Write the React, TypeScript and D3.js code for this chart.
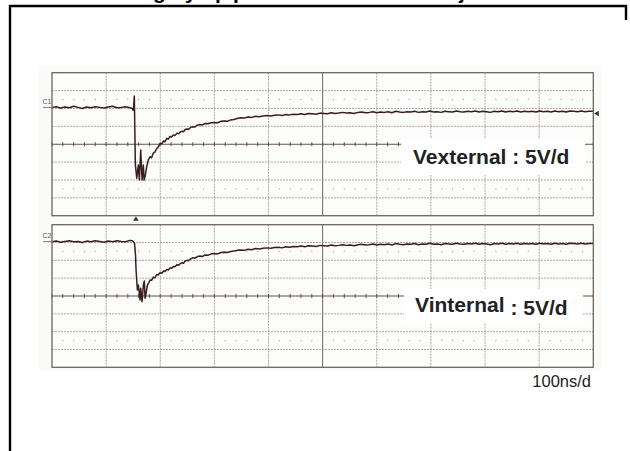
import React from "react";
import * as d3 from "d3";

// ---- data (time in ns, voltage in V on screen scale, centre = 0) ----
const timeDomain: [number, number] = [0, 1000];
const voltDomain: [number, number] = [-20, 20];
const verticalDivs = [100, 200, 300, 400, 500, 600, 700, 800, 900];
const horizontalDivs = [-15, -10, -5, 0, 5, 10, 15];
const dotRows = [-12.5, 12.5];

const channelLabels = ["C1", "C2"];
const channelTitles = [["Vexternal : 5V/d"], ["Vinternal", ": 5V/d"]];
const channelLevels = [10.3, 15.25];
const timebaseLabel = "100ns/d";
const triggerTime = 155;
const triggerLevel = 8.6;
const titleFragments = [
  { ch: "g", x: 153 },
  { ch: "y", x: 185 },
  { ch: "p", x: 215 },
  { ch: "p", x: 233 },
  { ch: "j", x: 459 },
];

const vexternal: [number, number][] = [
  [0, 10.3], [8, 10.5], [16, 10.1], [24, 10.4], [32, 10.2], [40, 10.6], [48, 10.3], [56, 10.0], [64, 10.4], [72, 10.2],
  [80, 10.5], [88, 10.3], [96, 10.1], [104, 10.4], [112, 10.6], [120, 10.2], [128, 10.3], [136, 10.5], [144, 10.2],
  [148, 10.0], [150.3, 9.5], [152.1, 13.5], [154, -5.8], [156.6, -9.5], [159.5, -5.8], [161.4, -10.0], [163.9, -1.6],
  [166.4, -10.0], [168.8, -5.8], [170.1, -10.0], [172.5, -8.6], [175, -6.3], [178, -4.4], [181, -3.5], [184, -3.8],
  [187, -2.5], [190, -2.2], [193.5, -1.15], [196, -0.9], [199.6, 0.2], [203, 0.1], [206, 0.9], [209, 0.7], [212, 1.65],
  [215, 1.4], [218, 2.2], [221, 2.0], [224, 2.6], [227, 2.4], [231, 3.1], [234, 2.9], [237, 3.4], [240, 3.6], [243, 3.5],
  [246, 4.1], [249, 4.25], [252, 4.1], [256, 4.7], [260, 4.9], [264, 4.8], [268, 5.3], [273, 5.5], [278, 5.4], [283, 5.8],
  [288, 5.7], [294, 6.0], [300, 6.1], [306, 6.0], [312, 6.4], [318, 6.5], [324, 6.4], [330, 6.8], [336, 6.9], [342, 7.2],
  [348, 7.4], [355, 7.3], [362, 7.6], [369, 7.5], [376, 7.8], [383, 7.7], [390, 7.9], [397, 8.0], [404, 7.9], [411, 8.1],
  [418, 8.2], [425, 8.0], [432, 8.3], [439, 8.2], [446, 8.4], [453, 8.3], [460, 8.5], [467, 8.3], [474, 8.6], [481, 8.5],
  [488, 8.4], [495, 8.7], [502, 8.6], [509, 8.5], [516, 8.8], [523, 8.6], [530, 8.7], [537, 8.9], [544, 8.7], [551, 8.8],
  [558, 8.6], [565, 8.9], [572, 9.0], [579, 8.8], [586, 8.9], [593, 9.1], [600, 8.8], [607, 9.0], [614, 8.9], [621, 9.1],
  [628, 8.8], [635, 9.2], [642, 9.0], [649, 8.9], [656, 9.1], [663, 9.0], [670, 9.2], [677, 8.9], [684, 9.1], [691, 9.0],
  [698, 9.3], [705, 9.0], [712, 9.1], [719, 8.9], [726, 9.2], [733, 9.1], [740, 9.0], [747, 9.3], [754, 9.1], [761, 9.0],
  [768, 9.2], [775, 9.1], [782, 9.3], [789, 9.0], [796, 9.2], [803, 9.1], [810, 8.9], [817, 9.2], [824, 9.1], [831, 9.3],
  [838, 9.0], [845, 9.2], [852, 9.1], [859, 9.3], [866, 9.0], [873, 9.2], [880, 9.1], [887, 9.2], [894, 9.0], [901, 9.3],
  [908, 9.1], [915, 9.2], [922, 9.0], [929, 9.3], [936, 9.1], [943, 9.2], [950, 9.0], [957, 9.3], [964, 9.2], [971, 9.1],
  [978, 9.3], [985, 9.1], [992, 9.2], [1000, 9.2],
];

const vinternal: [number, number][] = [
  [0, 15.2], [8, 15.4], [16, 15.1], [24, 15.3], [32, 15.5], [40, 15.2], [48, 15.3], [56, 15.0], [64, 15.4], [72, 15.2],
  [80, 15.5], [88, 15.3], [96, 15.1], [104, 15.4], [112, 15.2], [120, 15.5], [128, 15.3], [136, 15.2], [144, 15.6],
  [148, 15.5], [150, 15.3], [152.5, 14.75], [154.3, 11.5], [155.3, 7.3], [157.7, 1.7], [159.5, 3.1], [162.7, -1.1],
  [163.9, 2.2], [166.4, -1.6], [168.8, 3.1], [170.6, 4.2], [171.9, -0.65], [173.8, 0.76], [176.2, 3.1], [178.5, 3.6],
  [181.1, 4.5], [184, 4.4], [187.2, 5.3], [190, 5.1], [193.5, 6.0], [196, 5.9], [199.6, 6.5], [203, 6.4], [206, 7.0],
  [209, 6.9], [212, 7.4], [215, 7.3], [218, 7.9], [221, 7.8], [224, 8.3], [227, 8.2], [231, 8.8], [234, 8.6], [237, 9.1],
  [240, 9.3], [243, 9.2], [246, 9.8], [249, 10.0], [252, 9.9], [256, 10.4], [260, 10.7], [264, 10.6], [268, 11.0],
  [273, 11.2], [278, 11.1], [283, 11.5], [288, 11.4], [294, 11.8], [300, 11.9], [306, 11.8], [312, 12.2], [318, 12.3],
  [324, 12.2], [330, 12.5], [336, 12.6], [342, 12.8], [348, 12.9], [355, 12.8], [362, 13.1], [369, 13.0], [376, 13.3],
  [383, 13.2], [390, 13.4], [397, 13.5], [404, 13.4], [411, 13.6], [418, 13.7], [425, 13.5], [432, 13.8], [439, 13.7],
  [446, 13.9], [453, 13.8], [460, 14.0], [467, 13.8], [474, 14.1], [481, 14.0], [488, 13.9], [495, 14.2], [502, 14.1],
  [509, 14.0], [516, 14.3], [523, 14.1], [530, 14.2], [537, 14.4], [544, 14.2], [551, 14.3], [558, 14.1], [565, 14.4],
  [572, 14.5], [579, 14.3], [586, 14.4], [593, 14.6], [600, 14.3], [607, 14.5], [614, 14.4], [621, 14.6], [628, 14.3],
  [635, 14.7], [642, 14.5], [649, 14.4], [656, 14.6], [663, 14.5], [670, 14.7], [677, 14.4], [684, 14.6], [691, 14.5],
  [698, 14.8], [705, 14.5], [712, 14.6], [719, 14.4], [726, 14.7], [733, 14.6], [740, 14.5], [747, 14.8], [754, 14.6],
  [761, 14.5], [768, 14.7], [775, 14.6], [782, 14.8], [789, 14.5], [796, 14.7], [803, 14.6], [810, 14.4], [817, 14.7],
  [824, 14.6], [831, 14.8], [838, 14.5], [845, 14.7], [852, 14.6], [859, 14.8], [866, 14.5], [873, 14.7], [880, 14.6],
  [887, 14.7], [894, 14.5], [901, 14.8], [908, 14.6], [915, 14.7], [922, 14.5], [929, 14.8], [936, 14.6], [943, 14.7],
  [950, 14.5], [957, 14.8], [964, 14.7], [971, 14.6], [978, 14.8], [985, 14.6], [992, 14.7], [1000, 14.7],
];

const traces = [vexternal, vinternal];

// ---- layout ----
const W = 630;
const H = 451;
const plotLeft = 52;
const plotRight = 593.3;
const panels = [
  { top: 72.7, bottom: 215.7, box: { x: 401, y: 139, w: 184, h: 36 }, textX: 413, textY: 164.3 },
  { top: 224.7, bottom: 367.3, box: { x: 404, y: 289, w: 179, h: 34 }, textX: 415, textY: 311.7 },
];

const FONT = "'Liberation Sans', Arial, Helvetica, sans-serif";

export default function App() {
  const x = d3.scaleLinear().domain(timeDomain).range([plotLeft, plotRight]);
  const subTicks = d3.range(timeDomain[0], timeDomain[1] + 0.001, 20);

  return (
    <svg
      width={W}
      height={H}
      viewBox={`0 0 ${W} ${H}`}
      style={{ position: "absolute", left: 0, top: 0, background: "#fff" }}
    >
      <rect x={0} y={0} width={W} height={H} fill="#fff" />
      {/* cut-off title descenders */}
      {titleFragments.map((f, i) => (
        <text key={i} x={f.x} y={-1.5} fontFamily={FONT} fontWeight="bold" fontSize={21} fill="#000">
          {f.ch}
        </text>
      ))}
      {/* outer frame */}
      <path d={`M10,451 V6 H626 V20`} fill="none" stroke="#000" strokeWidth={2.4} />
      {/* faint screen margin */}
      <rect x={39} y={66} width={562} height={305} fill="#fafaf9" />

      {panels.map((p, pi) => {
        const y = d3.scaleLinear().domain(voltDomain).range([p.bottom, p.top]);
        const line = d3
          .line<[number, number]>()
          .x((d) => x(d[0]))
          .y((d) => y(d[1]));
        const dots: [number, number][] = [];
        dotRows.forEach((v) =>
          subTicks.forEach((t) => {
            if (t % 100 !== 0) dots.push([t, v]);
          })
        );
        return (
          <g key={pi}>
            <rect x={plotLeft} y={p.top} width={plotRight - plotLeft} height={p.bottom - p.top} fill="#fdfdfc" />
            {verticalDivs.map((t) => (
              <line
                key={"v" + t}
                x1={x(t)}
                x2={x(t)}
                y1={p.top}
                y2={p.bottom}
                stroke={t === 500 ? "#6e6262" : "#9a9090"}
                strokeWidth={t === 500 ? 1 : 0.8}
                strokeDasharray={t === 500 ? undefined : "2,1"}
              />
            ))}
            {horizontalDivs.map((v) => (
              <line
                key={"h" + v}
                x1={plotLeft}
                x2={plotRight}
                y1={y(v)}
                y2={y(v)}
                stroke={v === 0 ? "#5e5050" : "#9a9090"}
                strokeWidth={v === 0 ? 1.1 : 0.8}
                strokeDasharray={v === 0 ? undefined : "2,1"}
              />
            ))}
            {subTicks.map((t) => (
              <line key={"tk" + t} x1={x(t)} x2={x(t)} y1={y(0) - 2} y2={y(0) + 2} stroke="#5e5050" strokeWidth={1} />
            ))}
            {dots.map((d, i) => (
              <rect key={"d" + i} x={x(d[0]) - 0.5} y={y(d[1]) - 0.5} width={1} height={1} fill="#9a9090" />
            ))}
            <path d={line(traces[pi]) || ""} fill="none" stroke="#3a1e1e" strokeWidth={1.5} strokeLinejoin="round" />
            {/* channel marker */}
            <text x={42.5} y={y(channelLevels[pi]) - 3.5} fontFamily={FONT} fontSize={7} fill="#555">
              {channelLabels[pi]}
            </text>
            <line
              x1={43}
              x2={plotLeft}
              y1={y(channelLevels[pi])}
              y2={y(channelLevels[pi])}
              stroke="#555"
              strokeWidth={0.8}
            />
            {/* label box */}
            <rect x={p.box.x} y={p.box.y} width={p.box.w} height={p.box.h} fill="#fff" />
            <text x={p.textX} y={p.textY} fontFamily={FONT} fontWeight="bold" fontSize={21} fill="#222">
              {channelTitles[pi].length === 1 ? (
                channelTitles[pi][0]
              ) : (
                <>
                  <tspan>{channelTitles[pi][0]}</tspan>
                  <tspan dx={6} dy={3}>
                    {channelTitles[pi][1]}
                  </tspan>
                </>
              )}
            </text>
            <rect
              x={plotLeft}
              y={p.top}
              width={plotRight - plotLeft}
              height={p.bottom - p.top}
              fill="none"
              stroke="#6f6464"
              strokeWidth={1.3}
            />
          </g>
        );
      })}

      {/* trigger position marker */}
      {(() => {
        const tx = x(triggerTime);
        return <path d={`M${tx - 2.8},220.8 L${tx + 2.8},220.8 L${tx},216.6 Z`} fill="#333" />;
      })()}
      {/* trigger level marker */}
      {(() => {
        const y1 = d3.scaleLinear().domain(voltDomain).range([panels[0].bottom, panels[0].top]);
        const ty = y1(triggerLevel);
        return <path d={`M${plotRight + 0.8},${ty} L${plotRight + 5.5},${ty - 2.8} L${plotRight + 5.5},${ty + 2.8} Z`} fill="#333" />;
      })()}

      <text x={591} y={386.7} textAnchor="end" fontFamily={FONT} fontSize={16.5} fill="#222">
        {timebaseLabel}
      </text>
    </svg>
  );
}
